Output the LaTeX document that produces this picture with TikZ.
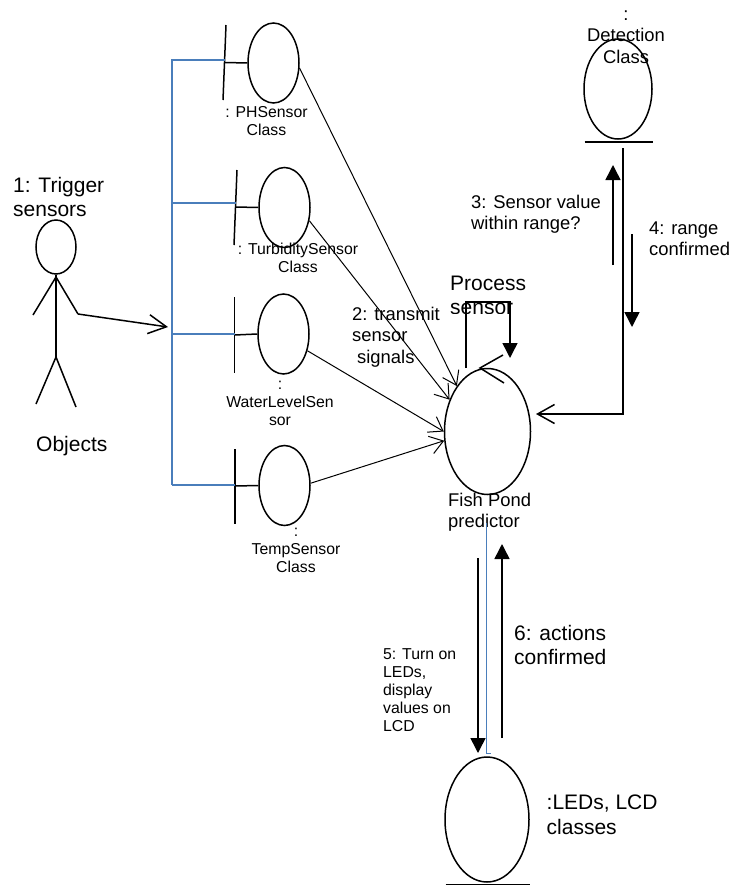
\documentclass[tikz,border=0pt]{standalone}
\usepackage{fontspec}
\setmainfont{Liberation Sans}
\usepackage{xcolor}
\definecolor{Bus}{HTML}{4A7EBB}
\usepackage{tikz}
\usetikzlibrary{arrows.meta,positioning,shapes.geometric}
\tikzset{
  oval/.style={ellipse,draw,line width=1.5pt,inner sep=0pt},
  sensoroval/.style={oval,minimum width=51pt,minimum height=80pt},
  bigoval/.style={oval,minimum width=86pt,minimum height=126pt},
  smalltext/.style={align=center,inner sep=0pt,font=\fontsize{15.8}{18}\selectfont},
  midtext/.style={align=left,inner sep=0pt,anchor=west,font=\fontsize{18.4}{21.5}\selectfont},
  bigtext/.style={align=left,inner sep=0pt,anchor=west,font=\fontsize{21}{24.5}\selectfont},
  bar/.style={line width=1.5pt},
  bus/.style={draw=Bus,line width=1.1pt},
  busthick/.style={draw=Bus,line width=1.8pt},
  signal/.style={-{Straight Barb[length=13pt,width=18pt]},line width=1pt},
  openarrow/.style={-{Straight Barb[length=18pt,width=19pt]},line width=1.5pt},
  solidarrow/.style={-{Triangle[length=15pt,width=15pt]},line width=1.5pt}
}
\begin{document}
\begin{tikzpicture}[x=1pt,y=-1pt]
  \useasboundingbox (0,0) rectangle (747,886);

  \node[bigtext] (trigger) at (13,197) {1: Trigger\\sensors};
  \node[oval,minimum width=40pt,minimum height=54pt] (head) at (56,247) {};
  \coordinate (hip) at (56,357);
  \coordinate (handl) at (33,315);
  \coordinate (handr) at (78,314);
  \coordinate (neck) at (56,277);
  \draw[bar] (head.south) -- (hip);
  \draw[bar] (handl) -- (neck) -- (handr);
  \draw[bar] (36,404) -- (hip) -- (76,407);
  \node[bigtext] (objects) at (36,446) {Objects};

  \coordinate (bustop) at (172,60);
  \coordinate (busend) at (172,485);
  \coordinate (busarrow) at (168,327);
  \draw[openarrow] (handr) -- (busarrow);

  \node[sensoroval] (ph) at (273.5,63) {};
  \node[sensoroval] (turbidity) at (284.5,207.5) {};
  \node[sensoroval] (water) at (283.5,334) {};
  \node[sensoroval] (temp) at (284.5,485.5) {};

  \coordinate (phstem) at (225,62.5);
  \coordinate (turbiditystem) at (235.5,207);
  \coordinate (waterstem) at (234.5,335);
  \coordinate (tempstem) at (235,486);
  \draw[bar] (226,25) -- (223,100);
  \draw[bar] (237,170) -- (234,245);
  \draw[bar] (234.5,297) -- (234.5,373);
  \draw[bar] (235,449) -- (235,524);
  \draw[bar] (phstem) -- (ph.west);
  \draw[bar] (turbiditystem) -- (turbidity.west);
  \draw[bar] (waterstem) -- (water.west);
  \draw[bar] (tempstem) -- (temp.west);

  \draw[bus] (phstem |- bustop) -- (bustop) -- (busend);
  \draw[busthick] (172,203) -- (turbiditystem |- 0,203);
  \draw[busthick] (172,334) -- (waterstem |- 0,334);
  \draw[busthick] (busend) -- (tempstem |- busend);

  \node[smalltext] (phlabel) at (266.5,121) {: PHSensor\\Class};
  \node[smalltext] (turbiditylabel) at (298,258) {: TurbiditySensor\\Class};
  \node[smalltext] (waterlabel) at (280,403) {:\\WaterLevelSen\\sor};
  \node[smalltext] (templabel) at (296,550) {:\\TempSensor\\Class};

  \node[bigoval] (pond) at (487.5,431.5) {};
  \node[midtext] (pondlabel) at (448,512) {Fish Pond\\predictor};
  \node[midtext] (transmit) at (352,337) {2: transmit\\sensor\\\hspace*{5pt}signals};

  \draw[signal] (ph.-11) -- (pond.124);
  \draw[signal] (turbidity.-28) -- (pond.140);
  \draw[signal] (water.-35) -- (pond.180);
  \draw[signal] (temp.5) -- (pond.-168);

  \begin{scope}
    \clip (440,260) rectangle (540,313.5);
    \node[bigtext] (process) at (450,295.5) {Process\\sensor};
  \end{scope}
  \coordinate (loopstart) at (466,368);
  \coordinate (looptip) at (510,358);
  \draw[solidarrow] (loopstart) -- (466,302) -- (510,302) -- (looptip);
  \draw[line width=1.5pt] (503,355) -- (480,368) -- (504,383);

  \node[oval,minimum width=68pt,minimum height=100pt] (detection) at (618,89) {};
  \coordinate (detectl) at (584.5,142);
  \coordinate (detectr) at (653,142);
  \draw[line width=1.5pt] (detectl) -- (detectr);
  \node[midtext,align=center,anchor=center] (detectionlabel) at (626,37) {:\\Detection\\Class};

  \coordinate (rangetop) at (623,148);
  \coordinate (rangecorner) at (623,414);
  \coordinate (rangetip) at (536,414);
  \draw[openarrow,-{Straight Barb[length=17pt,width=19pt]}] (rangetop) -- (rangecorner) -- (rangetip);
  \draw[solidarrow] (613,265) -- (613,165);
  \draw[solidarrow] (632,234) -- (632,327);
  \node[midtext] (withinrange) at (471,214) {3: Sensor value\\within range?};
  \node[midtext] (rangeok) at (649,239) {4: range\\confirmed};

  \node[bigoval,minimum width=84pt,minimum height=125pt] (leds) at (487,819.5) {};
  \coordinate (ledsl) at (445.5,884.5);
  \coordinate (ledsr) at (530,884.5);
  \draw[line width=1.5pt] (ledsl) -- (ledsr);
  \node[bigtext] (ledslabel) at (546.5,815) {:LEDs, LCD\\classes};

  \draw[Bus,line width=.7pt] (486,523) -- (486,753) -- (491,753);
  \draw[solidarrow] (478,558) -- (478,753);
  \draw[solidarrow] (502,738) -- (502,544);
  \node[smalltext,align=left,anchor=west] (turnon) at (383,690) {5: Turn on\\LEDs,\\display\\values on\\LCD};
  \node[bigtext] (actions) at (514,645) {6: actions\\confirmed};
\end{tikzpicture}
\end{document}
